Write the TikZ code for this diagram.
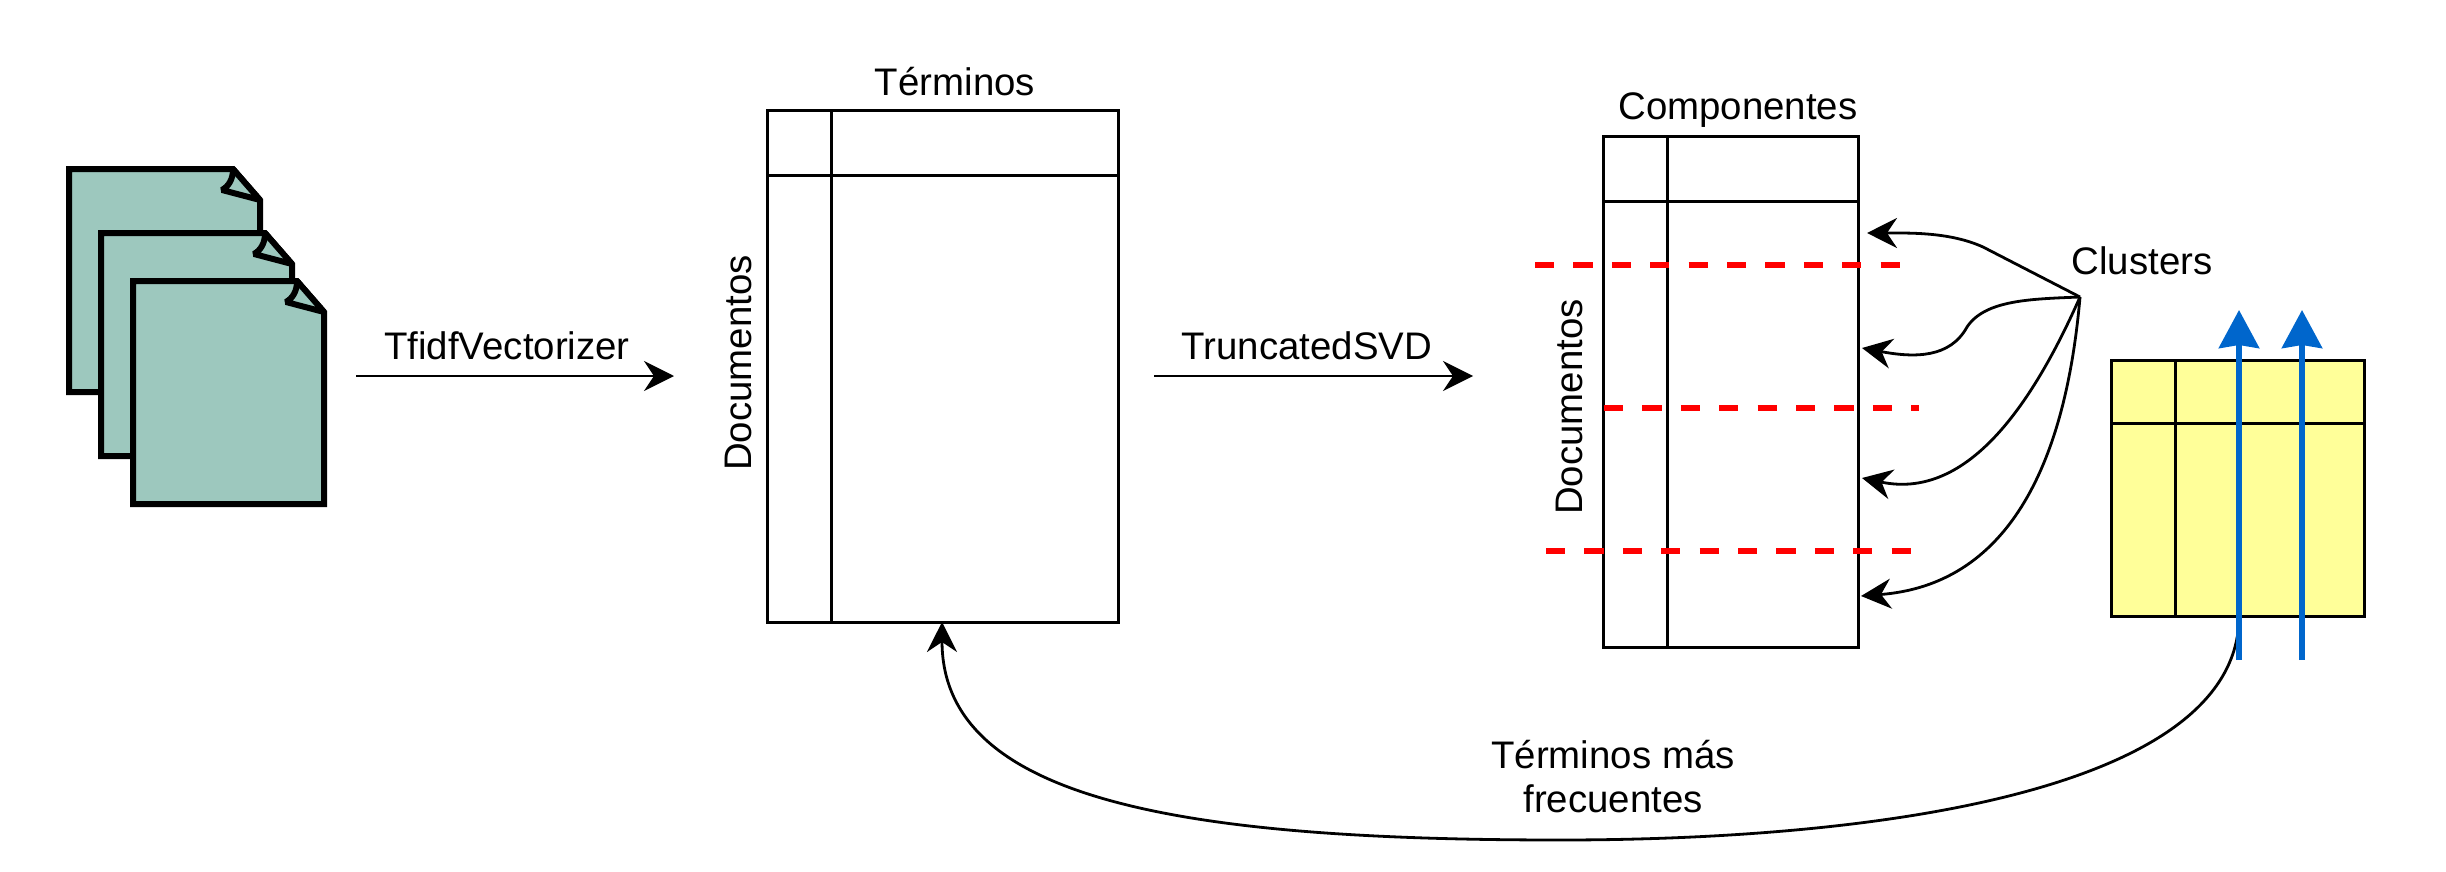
\documentclass[tikz,border=0pt]{standalone}
\usepackage{fontspec}
\setmainfont{Liberation Sans}
\usetikzlibrary{arrows.meta}
\definecolor{pagefill}{HTML}{9DC8BE}
\definecolor{yellowfill}{HTML}{FFFF99}
\definecolor{bluearrow}{HTML}{0066CC}
\tikzset{
  box/.style={draw=black,line width=1.5pt,inner sep=0pt,outer sep=0pt,anchor=north west,fill=white},
  yellowbox/.style={box,fill=yellowfill},
  grid/.style={draw=black,line width=1.5pt},
  arr/.style={draw=black,line width=1.4pt,-{Stealth[length=15pt,width=15pt,inset=5pt]}},
  cut/.style={draw=red,line width=3pt,dash pattern=on 9.6pt off 9.6pt},
  blue/.style={draw=bluearrow,line width=3pt,-{Stealth[length=19pt,width=20pt,inset=1.5pt,sep=0pt]}},
  label/.style={inner sep=0pt,font=\fontsize{19.2pt}{22pt}\selectfont,align=center},
  docpage/.pic={
    \draw[line width=3pt,fill=pagefill,miter limit=1.5] (0,0) -- (164,0) -- (191,31) -- (191,223) -- (0,223) -- cycle;
    \draw[line width=3pt,fill=pagefill,miter limit=1.5] (164,0) .. controls (164,10) and (160,17) .. (153,21) -- (191,31) -- cycle;
  }
}
\begin{document}
\begin{tikzpicture}[x=0.5pt,y=-0.5pt]
\useasboundingbox (0,0) rectangle (2446,872);
% documents
\pic at (69,169) {docpage};
\pic at (101,233) {docpage};
\pic at (133,281) {docpage};
% term matrix
\node[box,minimum width=175.5pt,minimum height=255.5pt] (m1) at (767.5,111) {};
\draw[grid] (831.5,0 |- m1.north) coordinate (m1v) -- (m1v |- m1.south);
\draw[grid] (m1.west |- 0,175) coordinate (m1h) -- (m1h -| m1.east);
% component matrix
\node[box,minimum width=127.5pt,minimum height=255pt] (m2) at (1603,137) {};
\draw[grid] (1667,0 |- m2.north) coordinate (m2v) -- (m2v |- m2.south);
\draw[grid] (m2.west |- 0,201) coordinate (m2h) -- (m2h -| m2.east);
% yellow matrix
\node[yellowbox,minimum width=126.5pt,minimum height=128pt] (m3) at (2111,360) {};
\draw[grid] (2175,0 |- m3.north) coordinate (m3v) -- (m3v |- m3.south);
\draw[grid] (m3.west |- 0,423) coordinate (m3h) -- (m3h -| m3.east);
% labels
\node[label] (ltf) at (507,346) {TfidfVectorizer};
\node[label] (ltr) at (1307,346) {TruncatedSVD};
\node[label] (lte) at (955,82) {Términos};
\node[label] (lco) at (1738,110) {Componentes};
\node[label,rotate=90] (ld1) at (738,363) {Documentos};
\node[label,rotate=90] (ld2) at (1569,407) {Documentos};
\node[label] (lcl) at (2142,261) {Clusters};
\node[label] (lfr) at (1613,777) {Términos más\\frecuentes};
% main arrows
\coordinate (a1) at (356,376); \coordinate (a2) at (674,376);
\coordinate (b1) at (1154,376); \coordinate (b2) at (1473,376);
\draw[arr] (a1) -- (a2);
\draw[arr] (b1) -- (b2);
% red cuts
\coordinate (r1a) at (1535,265); \coordinate (r1b) at (1900,265);
\coordinate (r2a) at (1604,408); \coordinate (r2b) at (1919,408);
\coordinate (r3a) at (1546,551); \coordinate (r3b) at (1911,551);
\draw[cut] (r1a) -- (r1b);
\draw[cut] (r2a) -- (r2b);
\draw[cut] (r3a) -- (r3b);
% clusters fan
\coordinate (fan) at (2080,297);
\coordinate (ca) at (1867,233);
\coordinate (cb) at (1862,348);
\coordinate (cc) at (1862,478);
\coordinate (cd) at (1861,596);
\draw[arr] (fan) -- (1983,247) .. controls (1950,232) and (1910,233) .. (ca);
\draw[arr] (fan) .. controls (2030,299) and (1985,300) .. (1967,327) .. controls (1950,358) and (1915,358) .. (cb);
\draw[arr] (fan) .. controls (2030,410) and (1965,500) .. (cc);
\draw[arr] (fan) .. controls (2065,470) and (2005,585) .. (cd);
% feedback curve
\coordinate (fb) at (2239,616);
\coordinate (fc) at (942,622);
\draw[arr] (fb) .. controls (2239,790) and (1880,840) .. (1560,840) .. controls (1180,840) and (942,800) .. (fc);
% blue arrows
\coordinate (u1a) at (2239,660); \coordinate (u1b) at (2239,310);
\coordinate (u2a) at (2302,660); \coordinate (u2b) at (2302,310);
\draw[blue] (u1a) -- (u1b);
\draw[blue] (u2a) -- (u2b);
\end{tikzpicture}
\end{document}
